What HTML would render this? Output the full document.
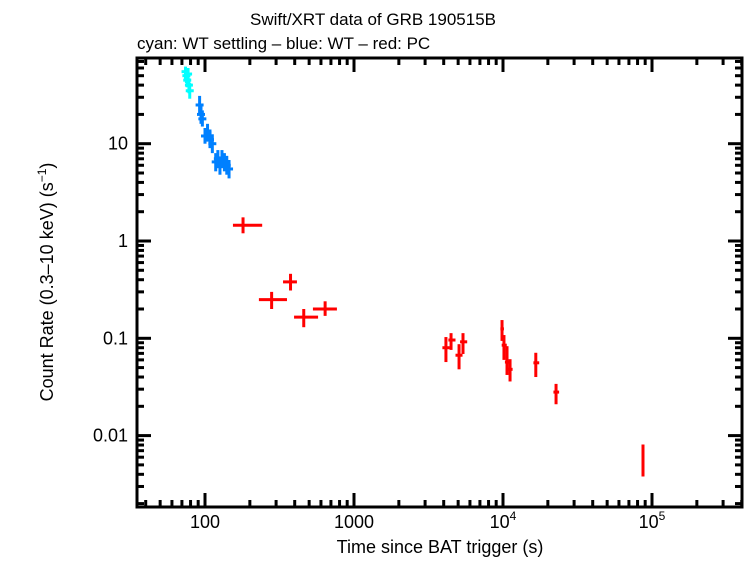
<!DOCTYPE html>
<html><head><meta charset="utf-8"><style>
body{margin:0;background:#fff}
svg text{font-family:"Liberation Sans",sans-serif;fill:#000}
</style></head><body>
<svg id="chart" width="746" height="558" viewBox="0 0 746 558" xmlns="http://www.w3.org/2000/svg">
<text x="373" y="25" font-size="17" text-anchor="middle">Swift/XRT data of GRB 190515B</text>
<text x="137" y="49" font-size="17">cyan: WT settling – blue: WT – red: PC</text>
<text x="440" y="553" font-size="18" text-anchor="middle">Time since BAT trigger (s)</text>
<text transform="translate(53,282) rotate(-90)" font-size="18" text-anchor="middle">Count Rate (0.3–10 keV) (s<tspan font-size="12" dy="-7">−1</tspan><tspan dy="7">)</tspan></text>
<g id="axes"></g><g id="marks"></g>
</svg>
<script>
const cyanT=[74,75,76,77,78,79];
const cyanR=[55,50,45,52,40,35];
const cyanLo=[45,42,38,44,33,29];
const cyanHi=[62,58,53,60,47,42];
const blueT=[92,94,96,100,104,108,112,118,122,126,130,135,140,145];
const blueR=[25,20,18,12,13,11,10,6.5,7,6,7,6.5,6,5.5];
const blueLo=[20,16,15,10,10.5,9,8,5.2,5.6,4.8,5.6,5.2,4.8,4.4];
const blueHi=[31,25,22,14.5,16,14,12.5,8,8.6,7.4,8.6,8,7.5,6.8];
const pcT=[180,280,375,460,640,4140,4480,5070,5390,9850,10150,10640,11150,16600,22700,87000];
const pcTlo=[154,230,334,396,530,3920,4300,4800,5150,9600,9800,10300,10700,16000,21800,86000];
const pcThi=[242,355,414,574,768,4380,4800,5350,5750,10150,10600,11100,11600,17500,23800,88000];
const pcR=[1.45,0.25,0.38,0.165,0.2,0.080,0.096,0.067,0.092,0.125,0.085,0.057,0.048,0.056,0.028,0.0055];
const pcLo=[1.2,0.2,0.31,0.13,0.17,0.057,0.076,0.048,0.069,0.094,0.060,0.042,0.036,0.040,0.021,0.0038];
const pcHi=[1.75,0.3,0.46,0.2,0.24,0.103,0.113,0.087,0.113,0.154,0.108,0.083,0.061,0.071,0.034,0.0081];
const xTickVals=[100,1000,10000,100000];
const xTickLabels=["100","1000","10","10"];
const xTickExp=["","","4","5"];
const yTickVals=[10,1,0.1,0.01];
const yTickLabels=["10","1","0.1","0.01"];

const L=137,R=742,T=58,B=507;
const xs=t=>205+149*(Math.log10(t)-2);
const ys=r=>241-97.3*Math.log10(r);
const NS="http://www.w3.org/2000/svg";
function mk(tag,attrs,parent){const e=document.createElementNS(NS,tag);for(const k in attrs)e.setAttribute(k,attrs[k]);parent.appendChild(e);return e;}
const ax=document.getElementById('axes'),mg=document.getElementById('marks');
const frame=mk('rect',{x:L,y:T,width:R-L,height:B-T,fill:'none',stroke:'#000','stroke-width':3},ax);


for(let d=1;d<=5;d++)for(let m=1;m<10;m++){const v=m*Math.pow(10,d);const x=xs(v);if(x<=L||x>=R)continue;const len=m==1?14:7;
 mk('line',{x1:x,y1:B,x2:x,y2:B-len,stroke:'#000','stroke-width':3},ax);mk('line',{x1:x,y1:T,x2:x,y2:T+len,stroke:'#000','stroke-width':3},ax);}
for(let d=-3;d<=2;d++)for(let m=1;m<10;m++){const v=m*Math.pow(10,d);const y=ys(v);if(y<=T||y>=B)continue;const len=m==1?14:7;
 mk('line',{x1:L,y1:y,x2:L+len,y2:y,stroke:'#000','stroke-width':3},ax);mk('line',{x1:R,y1:y,x2:R-len,y2:y,stroke:'#000','stroke-width':3},ax);}
xTickVals.forEach((v,i)=>{const t=mk('text',{x:xs(v),y:528,'font-size':18,'text-anchor':'middle'},ax);
 
 
 t.textContent=xTickLabels[i];if(xTickExp[i]){const s=mk('tspan',{'font-size':12,dy:-8},t);s.textContent=xTickExp[i];}});
yTickVals.forEach((v,i)=>{const t=mk('text',{x:128,y:ys(v)+6,'font-size':18,'text-anchor':'end'},ax);
 
 
 t.textContent=yTickLabels[i];});
function series(T_,R_,Lo,Hi,Tl,Th,color,name,w){T_.forEach((t,i)=>{const g=mk('g',{stroke:color,'stroke-width':w},mg);
 
 
 const x=xs(t);mk('line',{x1:x,y1:ys(Lo[i]),x2:x,y2:ys(Hi[i])},g);
 const x1=Tl?xs(Tl[i]):x-4,x2=Th?xs(Th[i]):x+4;mk('line',{x1:x1,y1:ys(R_[i]),x2:x2,y2:ys(R_[i])},g);});}
series(cyanT,cyanR,cyanLo,cyanHi,null,null,'#00ffff','wt-settling-point',3);
series(blueT,blueR,blueLo,blueHi,null,null,'#0080ff','wt-point',3);
series(pcT,pcR,pcLo,pcHi,pcTlo,pcThi,'#ff0000','pc-point',3);
</script>
</body></html>
